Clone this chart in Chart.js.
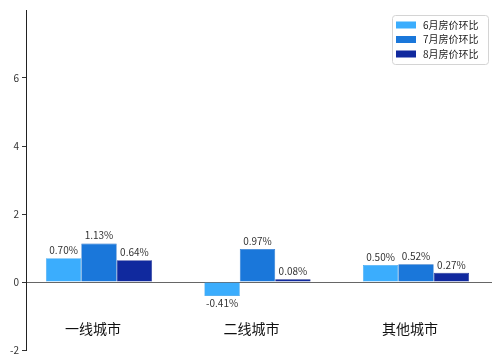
<!DOCTYPE html>
<html><head><meta charset="utf-8">
<script src="https://cdn.jsdelivr.net/npm/chart.js@4.4.0/dist/chart.umd.min.js"></script>
<style>html,body{margin:0;padding:0;background:#fff}#wrap{width:502px;height:363px}</style>
</head><body><div id="wrap"><canvas id="c" width="502" height="363"></canvas></div>
<script>
const categories = ['一线城市', '二线城市', '其他城市'];
const seriesNames = ['6月房价环比', '7月房价环比', '8月房价环比'];
const june = [0.70, -0.41, 0.50];
const july = [1.13, 0.97, 0.52];
const august = [0.64, 0.08, 0.27];
const yTicks = [-2, 0, 2, 4, 6];
const colors = ['#3badfd', '#1a77da', '#10299e'];
const borders = ['#2f9ae8', '#1466c2', '#0b1f85'];

const FONT = '"Noto Sans CJK SC", "DejaVu Sans", sans-serif';
const all = [june, july, august];
const datasets = all.map((arr, i) => ({
  label: seriesNames[i],
  data: arr.map((v, k) => ({x: k, y: v})),
  backgroundColor: colors[i],
  borderColor: borders[i],
  borderWidth: 0.6,
  categoryPercentage: 0.67,
  barPercentage: 1.0
}));

const extras = {
  id: 'extras',
  afterDatasetsDraw(chart) {
    const ctx = chart.ctx;
    const xs = chart.scales.x, ys = chart.scales.y;
    ctx.save();
    ctx.font = '10px ' + FONT;
    ctx.fillStyle = '#333';
    ctx.textAlign = 'center';
    chart.data.datasets.forEach((ds, di) => {
      const meta = chart.getDatasetMeta(di);
      meta.data.forEach((bar, k) => {
        const v = all[di][k];
        const txt = v.toFixed(2) + '%';
        if (v >= 0) {
          ctx.textBaseline = 'bottom';
          ctx.fillText(txt, bar.x, bar.y - 3);
        } else {
          ctx.textBaseline = 'top';
          ctx.fillText(txt, bar.x, bar.y + 2);
        }
      });
    });
    ctx.font = '14px ' + FONT;
    ctx.fillStyle = '#111';
    ctx.textBaseline = 'middle';
    categories.forEach((c, k) => {
      ctx.fillText(c, xs.getPixelForValue(k) - 6, ys.getPixelForValue(-1.38));
    });
    const bx = 392, by = 15, bw = 96, bh = 49;
    ctx.beginPath();
    if (ctx.roundRect) ctx.roundRect(bx + 0.5, by + 0.5, bw, bh, 3); else ctx.rect(bx + 0.5, by + 0.5, bw, bh);
    ctx.fillStyle = 'rgba(255,255,255,0.9)';
    ctx.fill();
    ctx.strokeStyle = '#d4d4d4';
    ctx.lineWidth = 1;
    ctx.stroke();
    ctx.font = '10px ' + FONT;
    ctx.textAlign = 'left';
    seriesNames.forEach((n, i) => {
      const cy = 25 + i * 14.5;
      ctx.fillStyle = colors[i];
      ctx.fillRect(396, cy - 3.5, 20, 7);
      ctx.fillStyle = '#222';
      ctx.fillText(n, 423, cy);
    });
    ctx.restore();
  }
};

new Chart(document.getElementById('c'), {
  type: 'bar',
  data: {datasets},
  options: {
    responsive: false,
    animation: false,
    layout: {padding: {left: 0, right: 10, top: 10, bottom: 13}},
    plugins: {legend: {display: false}, tooltip: {enabled: false}},
    scales: {
      x: {
        type: 'linear',
        offset: false,
        min: -0.4606, max: 2.4795,
        afterBuildTicks(s) { s.ticks = categories.map((c, k) => ({value: k})); },
        display: false,
        grid: {display: false, offset: false}
      },
      y: {
        min: -2, max: 8,
        afterBuildTicks(s) { s.ticks = yTicks.concat([8]).map(v => ({value: v})); },
        afterFit(s) { s.width = 26; },
        ticks: {
          font: {size: 10, family: FONT},
          color: '#333',
          padding: 3,
          callback: v => (yTicks.includes(v) ? String(v) : '')
        },
        grid: {
          drawOnChartArea: true,
          tickLength: 4,
          color: ctx => (ctx.tick && ctx.tick.value === 0 ? '#666' : 'rgba(0,0,0,0)'),
          tickColor: ctx => (ctx.tick && ctx.tick.value === 8 ? 'rgba(0,0,0,0)' : '#333'),
          lineWidth: 1
        },
        border: {display: true, color: '#222', width: 1}
      }
    }
  },
  plugins: [extras]
});
</script></body></html>
